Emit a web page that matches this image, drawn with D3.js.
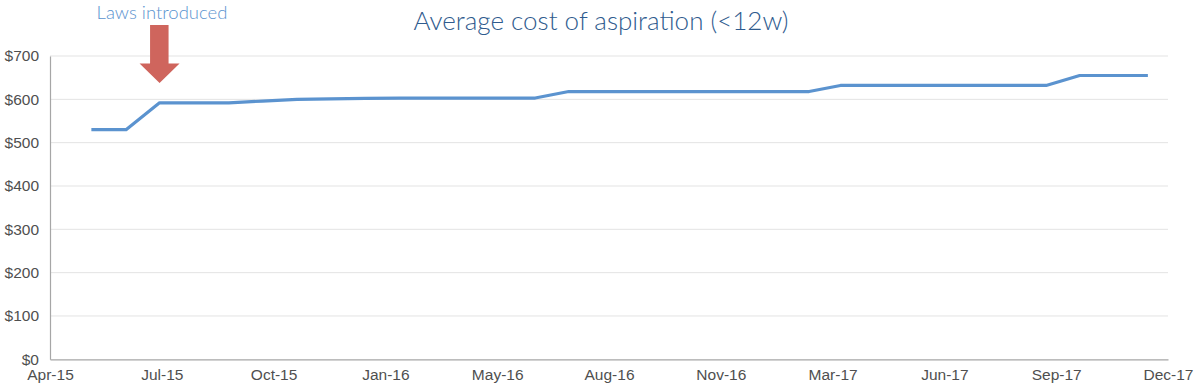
<!DOCTYPE html>
<html>
<head>
<meta charset="utf-8">
<script src="https://cdn.jsdelivr.net/npm/d3@7"></script>
<style>
  html, body { margin: 0; padding: 0; background: #ffffff; }
  svg { display: block; }
</style>
</head>
<body>
<svg id="chart" width="1200" height="391"></svg>
<script>
// ---- data ----
const months = [
  "2015-05","2015-06","2015-07","2015-08","2015-09","2015-10","2015-11","2015-12",
  "2016-01","2016-02","2016-03","2016-04","2016-05","2016-06","2016-07","2016-08",
  "2016-09","2016-10","2016-11","2016-12","2017-01","2017-02","2017-03","2017-04",
  "2017-05","2017-06","2017-07","2017-08","2017-09","2017-10","2017-11","2017-12"
];
const costValues = [
  530, 530, 592, 592, 592, 596, 600, 601,
  602, 603, 603, 603, 603, 603, 618, 618,
  618, 618, 618, 618, 618, 618, 632, 632,
  632, 632, 632, 632, 632, 655, 655, 655
];
const xTickLabels = ["Apr-15","Jul-15","Oct-15","Jan-16","May-16","Aug-16","Nov-16","Mar-17","Jun-17","Sep-17","Dec-17"];
const yTickValues = [0, 100, 200, 300, 400, 500, 600, 700];
const titleText = "Average cost of aspiration (<12w)";
const annotationText = "Laws introduced";
const annotationMonth = "2015-07";

// ---- layout ----
const svg = d3.select("#chart");
const plotLeft = 50, plotRight = 1168, plotTop = 56, plotBottom = 359.3;
const parseMonth = d3.timeParse("%Y-%m");
const axisStart = new Date(2015, 2, 25);
const x = d3.scaleTime()
  .domain([axisStart, d3.timeDay.offset(axisStart, 1000)])
  .range([plotLeft, plotRight]);
const y = d3.scaleLinear().domain([0, 700]).range([plotBottom, plotTop]);

const data = months.map((m, i) => ({ date: parseMonth(m), value: costValues[i] }));

// gridlines
svg.append("g")
  .selectAll("line")
  .data(yTickValues.filter(v => v > 0))
  .join("line")
  .attr("x1", plotLeft).attr("x2", plotRight)
  .attr("y1", d => y(d)).attr("y2", d => y(d))
  .attr("stroke", "#e3e3e3").attr("stroke-width", 1);

// y axis
const yAxis = svg.append("g")
  .attr("transform", `translate(${plotLeft},0)`)
  .call(d3.axisLeft(y).tickValues(yTickValues).tickFormat(d => "$" + d).tickSize(0).tickPadding(11));
yAxis.select(".domain").attr("stroke", "#a6a6a6").attr("stroke-width", 1.2);
yAxis.selectAll("text")
  .attr("font-family", "'Liberation Sans', Arial, sans-serif")
  .attr("font-size", 15.5).attr("fill", "#4f4f4f");

// x axis
const xTicks = d3.range(xTickLabels.length).map(k => d3.timeDay.offset(axisStart, k * 100));
const xAxis = svg.append("g")
  .attr("transform", `translate(0,${plotBottom})`)
  .call(d3.axisBottom(x).tickValues(xTicks).tickFormat((d, i) => xTickLabels[i]).tickSize(0).tickPadding(10));
xAxis.select(".domain").attr("stroke", "#a6a6a6").attr("stroke-width", 1.2);
xAxis.selectAll("text")
  .attr("font-family", "'Liberation Sans', Arial, sans-serif")
  .attr("font-size", 15.5).attr("fill", "#4f4f4f");

// line
const line = d3.line().x(d => x(d.date)).y(d => y(d.value));
svg.append("path")
  .datum(data)
  .attr("d", line)
  .attr("fill", "none")
  .attr("stroke", "#5b93cf")
  .attr("stroke-width", 3.2)
  .attr("stroke-linejoin", "round");

// title
svg.append("text")
  .attr("x", 601).attr("y", 30)
  .attr("text-anchor", "middle")
  .attr("font-family", "Lato, 'Open Sans', sans-serif")
  .attr("font-weight", 300)
  .attr("font-size", 26)
  .attr("fill", "#2f5b8e")
  .text(titleText);

// annotation
const ax = x(parseMonth(annotationMonth));
svg.append("text")
  .attr("x", 162).attr("y", 18.5)
  .attr("text-anchor", "middle")
  .attr("font-family", "Lato, 'Open Sans', sans-serif")
  .attr("font-weight", 300)
  .attr("font-size", 18.5)
  .attr("fill", "#5b93cf")
  .text(annotationText);

// arrow
const arrowTop = 25, headTop = 63.5, tip = 83;
svg.append("path")
  .attr("d", `M${ax - 9.5},${arrowTop} L${ax + 9},${arrowTop} L${ax + 9},${headTop} L${ax + 20},${headTop} L${ax},${tip} L${ax - 20},${headTop} L${ax - 9.5},${headTop} Z`)
  .attr("fill", "#cf655d");
</script>
</body>
</html>
